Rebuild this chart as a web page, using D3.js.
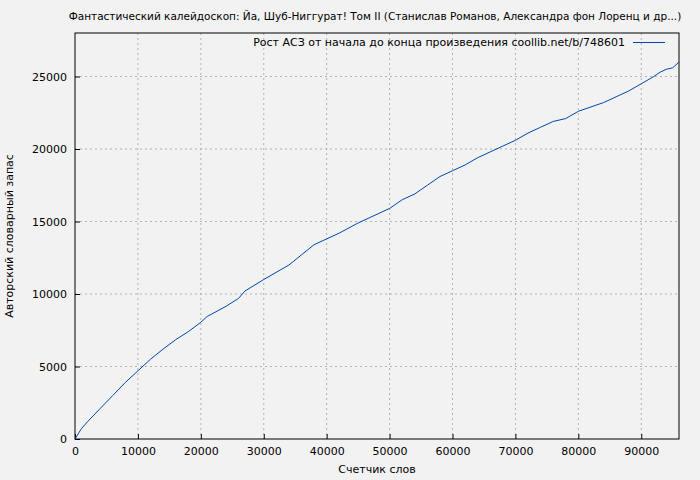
<!DOCTYPE html>
<html>
<head>
<meta charset="utf-8">
<script src="https://cdn.jsdelivr.net/npm/d3@7"></script>
<style>
  body { margin: 0; background: #f2f2f2; }
  text { font-family: "DejaVu Sans", sans-serif; font-size: 11px; fill: #000; }
</style>
</head>
<body>
<svg id="chart" width="700" height="480"></svg>
<script>
const title = 'Фантастический калейдоскоп: Йа, Шуб-Ниггурат! Том II (Станислав Романов, Александра фон Лоренц и др...)'
const legendLabel = 'Рост АСЗ от начала до конца произведения coollib.net/b/748601'
const xLabel = 'Счетчик слов'
const yLabel = 'Авторский словарный запас'
const xTicks = [0, 10000, 20000, 30000, 40000, 50000, 60000, 70000, 80000, 90000]
const yTicks = [0, 5000, 10000, 15000, 20000, 25000]

const words = [0, 500, 1000, 2000, 4000, 6000, 8000, 10000, 12000, 14000, 16000, 18000, 20000, 21000, 24000, 26000, 27000,
  30000, 34000, 36000, 38000, 40000, 42000, 45000, 48000, 50000, 52000, 54000, 56000, 58000, 60000, 62000, 64000,
  66000, 68000, 70000, 72000, 74000, 76000, 78000, 80000, 82000, 84000, 86000, 88000, 90000, 92000, 93000, 94000, 95000, 96000]
const vocab = [0, 350, 700, 1200, 2100, 3000, 3900, 4700, 5500, 6200, 6850, 7400, 8050, 8450, 9150, 9700, 10200,
  11000, 12000, 12700, 13400, 13800, 14200, 14900, 15500, 15900, 16500, 16900, 17500, 18100, 18500, 18900, 19400,
  19800, 20200, 20600, 21100, 21500, 21900, 22100, 22600, 22900, 23200, 23600, 24000, 24500, 25000, 25300, 25500, 25600, 26000]

const svg = d3.select('#chart')
const m = { left: 75, right: 679, top: 33, bottom: 439 }

const x = d3.scaleLinear().domain([0, 96000]).range([m.left, m.right])
const y = d3.scaleLinear().domain([0, 28000]).range([m.bottom, m.top])

// grid
svg.append('g').selectAll('line').data(xTicks.slice(1)).join('line')
  .attr('x1', d => x(d)).attr('x2', d => x(d)).attr('y1', m.top).attr('y2', m.bottom)
  .attr('stroke', '#a0a0a0').attr('stroke-dasharray', '2,3').attr('stroke-width', 0.8)
svg.append('g').selectAll('line').data(yTicks.slice(1)).join('line')
  .attr('x1', m.left).attr('x2', m.right).attr('y1', d => y(d)).attr('y2', d => y(d))
  .attr('stroke', '#a0a0a0').attr('stroke-dasharray', '2,3').attr('stroke-width', 0.8)

// axes
const xAxis = svg.append('g').attr('transform', `translate(0,${m.bottom})`)
  .call(d3.axisBottom(x).tickValues(xTicks).tickFormat(d3.format('d')).tickSizeInner(-5).tickSizeOuter(0).tickPadding(8))
const yAxis = svg.append('g').attr('transform', `translate(${m.left},0)`)
  .call(d3.axisLeft(y).tickValues(yTicks).tickFormat(d3.format('d')).tickSizeInner(-5).tickSizeOuter(0).tickPadding(8))
for (const a of [xAxis, yAxis]) {
  a.select('.domain').remove()
  a.selectAll('text').style('font-family', 'DejaVu Sans').style('font-size', '11px')
}

svg.append('rect').attr('x', m.left).attr('y', m.top)
  .attr('width', m.right - m.left).attr('height', m.bottom - m.top)
  .attr('fill', 'none').attr('stroke', '#000')

// line
const line = d3.line().x((d, i) => x(words[i])).y(d => y(d))
svg.append('path').datum(vocab).attr('d', line)
  .attr('fill', 'none').attr('stroke', '#0047ab').attr('stroke-width', 1)

// legend
svg.append('text').attr('x', 625).attr('y', 46).attr('text-anchor', 'end').text(legendLabel)
svg.append('line').attr('x1', 633).attr('x2', 665).attr('y1', 42.5).attr('y2', 42.5)
  .attr('stroke', '#0047ab')

// titles
svg.append('text').attr('x', 375).attr('y', 20).attr('text-anchor', 'middle').style('font-size', '10.5px').text(title)
svg.append('text').attr('x', 377).attr('y', 473).attr('text-anchor', 'middle').text(xLabel)
svg.append('text').attr('transform', 'translate(13,236) rotate(-90)').attr('text-anchor', 'middle').text(yLabel)
</script>
</body>
</html>
